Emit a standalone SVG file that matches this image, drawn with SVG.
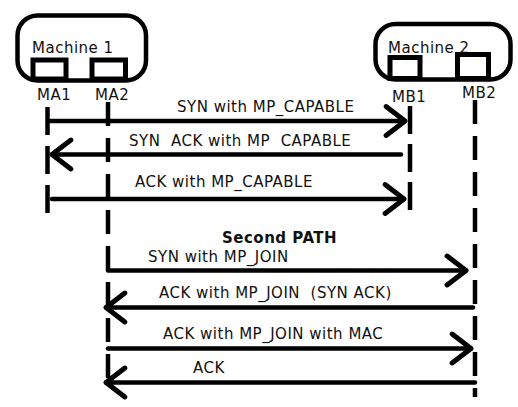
<svg xmlns="http://www.w3.org/2000/svg" width="518" height="407" viewBox="0 0 518 407">
<defs>
<style>
text{font-family:"DejaVu Sans",Verdana,sans-serif;font-size:15px;fill:#111;letter-spacing:0.5px;white-space:pre}
.b{font-weight:bold}
.box{fill:none;stroke:#000;stroke-width:4.5}
.inner{fill:none;stroke:#000;stroke-width:5}
.life{stroke:#000;stroke-width:4.5;stroke-dasharray:24 12;fill:none}
.msg{stroke:#000;stroke-width:4.5;fill:none;stroke-linecap:round}
</style>
<marker id="ah" markerUnits="userSpaceOnUse" markerWidth="40" markerHeight="40" viewBox="-22 -18 26 36" refX="0" refY="0" orient="auto">
<path d="M-17,-13 L0,0 L-17,13" fill="none" stroke="#000" stroke-width="4.5" stroke-linecap="round" stroke-linejoin="round"/>
</marker>
</defs>
<rect width="518" height="407" fill="#fff"/>
<g id="machine1">
<rect class="box" x="17.5" y="15.5" width="128.5" height="65" rx="20"/>
<text x="32" y="53">Machine 1</text>
</g>
<g id="MA1">
<rect class="inner" x="33" y="60" width="33" height="19"/>
<text x="37" y="100">MA1</text>
</g>
<g id="MA2">
<rect class="inner" x="92" y="60" width="33.5" height="19"/>
<text x="95" y="100">MA2</text>
</g>
<g id="machine2">
<rect class="box" x="375.5" y="24" width="135" height="55.5" rx="20"/>
<text x="388" y="53">Machine 2</text>
</g>
<g id="MB1">
<rect class="inner" x="390" y="57.5" width="30" height="21"/>
<text x="392" y="102">MB1</text>
</g>
<g id="MB2">
<rect class="inner" x="457.5" y="54.5" width="31" height="24"/>
<text x="462" y="98">MB2</text>
</g>
<g id="connectors">
<line class="life" x1="47.5" y1="107" x2="47.5" y2="214" style="stroke-dasharray:28 11"/>
<line class="life" x1="108" y1="102" x2="108" y2="387"/>
<line class="life" x1="410" y1="106" x2="410" y2="211" style="stroke-dasharray:28 10"/>
<line class="life" x1="475" y1="100" x2="475" y2="397"/>
<line class="msg" x1="48" y1="121" x2="405" y2="121" marker-end="url(#ah)"/>
<line class="msg" x1="401" y1="154.5" x2="52" y2="154.5" marker-end="url(#ah)"/>
<line class="msg" x1="52" y1="199" x2="404" y2="199" marker-end="url(#ah)"/>
<line class="msg" x1="108" y1="270.5" x2="466" y2="270.5" marker-end="url(#ah)"/>
<line class="msg" x1="473" y1="307.5" x2="106" y2="307.5" marker-end="url(#ah)"/>
<line class="msg" x1="108" y1="348.5" x2="471" y2="348.5" marker-end="url(#ah)"/>
<line class="msg" x1="475" y1="382.5" x2="106" y2="382.5" marker-end="url(#ah)"/>
</g>
<g id="labels">
<text x="177" y="112">SYN with MP_CAPABLE</text>
<text x="129" y="146">SYN  ACK with MP  CAPABLE</text>
<text x="135" y="187">ACK with MP_CAPABLE</text>
<text class="b" x="222" y="243">Second PATH</text>
<text x="148" y="262">SYN with MP_JOIN</text>
<text x="159" y="298">ACK with MP_JOIN  (SYN ACK)</text>
<text x="163" y="339">ACK with MP_JOIN with MAC</text>
<text x="193" y="373">ACK</text>
</g>
</svg>
